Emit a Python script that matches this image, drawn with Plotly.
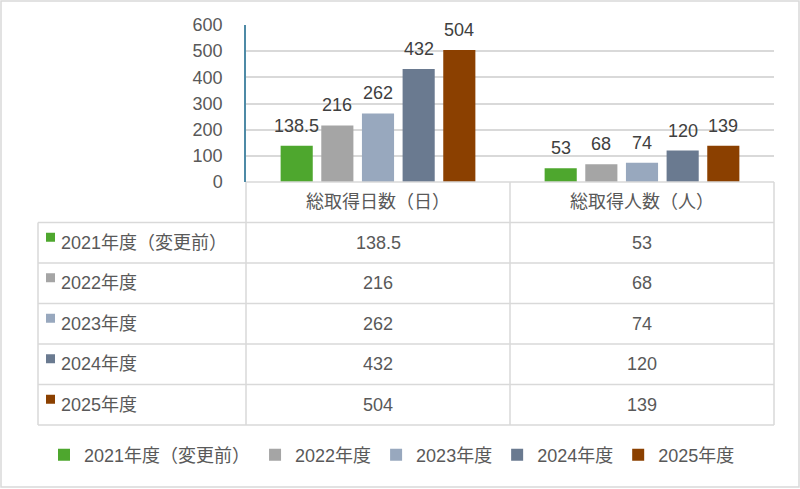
import plotly.graph_objects as go

# データ
categories = ['総取得日数（日）', '総取得人数（人）']
series_names = ['2021年度（変更前）', '2022年度', '2023年度', '2024年度', '2025年度']
days_total = [138.5, 216, 262, 432, 504]
people_total = [53, 68, 74, 120, 139]
colors = ['#4EA72E', '#A5A5A5', '#98A8BE', '#6A7A90', '#8B4000']

W, H = 800, 489
FONT = 'Liberation Sans, Noto Sans CJK JP, sans-serif'
TXT = '#595959'
FS = 18
BARGAP = 0.23

# 位置（ピクセル）
plot_l, plot_r = 246, 774
plot_t, plot_b = 25, 182
tab_l = 38
row_h = 40.5
cat_w = (plot_r - plot_l) / len(categories)


def px(x):
    return x / W


def py(y):
    return 1 - y / H


fig = go.Figure()
for i, name in enumerate(series_names):
    vals = [days_total[i], people_total[i]]
    fig.add_trace(go.Bar(
        x=categories,
        y=vals,
        name=name,
        marker=dict(color=colors[i], line=dict(width=0)),
    ))

annotations = []
# データラベル（棒の上）
slot = cat_w * (1 - BARGAP) / len(series_names)
for i in range(len(series_names)):
    for c, vals in enumerate([days_total, people_total]):
        annotations.append(dict(xref='x', yref='y', x=categories[c], y=vals[i],
                                xshift=(i - (len(series_names) - 1) / 2) * slot,
                                yshift=8, text=str(vals[i]), showarrow=False,
                                xanchor='center', yanchor='bottom',
                                font=dict(size=FS, color='#404040')))

shapes = []
line_c = '#D9D9D9'
n_rows = len(series_names)
tab_b = plot_b + row_h * (n_rows + 1)
# 横線
shapes.append(dict(type='line', xref='paper', yref='paper',
                   x0=px(plot_l), x1=px(plot_r), y0=py(plot_b), y1=py(plot_b),
                   line=dict(color=line_c, width=1.5)))
for r in range(1, n_rows + 2):
    y = plot_b + r * row_h
    shapes.append(dict(type='line', xref='paper', yref='paper',
                       x0=px(tab_l), x1=px(plot_r), y0=py(y), y1=py(y),
                       line=dict(color=line_c, width=1.5)))
# 縦線
shapes.append(dict(type='line', xref='paper', yref='paper',
                   x0=px(tab_l), x1=px(tab_l), y0=py(plot_b + row_h), y1=py(tab_b),
                   line=dict(color=line_c, width=1.5)))
for c in range(len(categories) + 1):
    x = plot_l + c * cat_w
    shapes.append(dict(type='line', xref='paper', yref='paper',
                       x0=px(x), x1=px(x), y0=py(plot_b), y1=py(tab_b),
                       line=dict(color=line_c, width=1.5)))
# 外枠
shapes.append(dict(type='rect', xref='paper', yref='paper',
                   x0=px(1), x1=px(W - 1), y0=py(H - 2), y1=py(1),
                   line=dict(color='#D9D9D9', width=1.5)))

# データテーブル
for i, name in enumerate(series_names):
    yc = plot_b + (i + 1.5) * row_h
    shapes.append(dict(type='rect', xref='paper', yref='paper',
                       x0=px(46), x1=px(55), y0=py(yc - 1), y1=py(yc - 10),
                       fillcolor=colors[i], line=dict(width=0)))
    annotations.append(dict(xref='paper', yref='paper', x=px(59), y=py(yc),
                            text=name, showarrow=False, xanchor='left', yanchor='middle',
                            font=dict(size=FS, color=TXT)))
    for c, vals in enumerate([days_total, people_total]):
        annotations.append(dict(xref='paper', yref='paper',
                                x=px(plot_l + (c + 0.5) * cat_w), y=py(yc),
                                text=str(vals[i]), showarrow=False,
                                xanchor='center', yanchor='middle',
                                font=dict(size=FS, color=TXT)))

fig.update_layout(
    width=W, height=H,
    margin=dict(l=0, r=0, t=0, b=0),
    paper_bgcolor='white', plot_bgcolor='white',
    font=dict(family=FONT, size=FS, color=TXT),
    barmode='group', bargap=BARGAP, bargroupgap=0.21,
    shapes=shapes, annotations=annotations,
    xaxis=dict(domain=[px(plot_l), px(plot_r)], showline=False, ticks='', automargin=False,
               tickfont=dict(size=FS, color=TXT), ticklabelstandoff=7),
    yaxis=dict(domain=[py(plot_b), py(plot_t)], range=[0, 600], dtick=100, automargin=False,
               showline=True, linecolor='#4E8AA6', linewidth=1.5,
               gridcolor='#D9D9D9', gridwidth=1.5, zeroline=False,
               tickfont=dict(size=FS, color=TXT), ticklabelstandoff=18),
    legend=dict(orientation='h', x=0.49, xanchor='center', y=py(455), yanchor='middle',
                font=dict(size=FS, color=TXT), itemwidth=30, traceorder='normal'),
)

fix_page = ("document.body.style.margin='0';"
            "document.body.style.overflow='hidden';"
            "var d=document.getElementById('{plot_id}');"
            "d.style.position='fixed';d.style.left='0px';d.style.top='0px';")
fig.write_html('out.html', config={'displayModeBar': False}, post_script=fix_page)
